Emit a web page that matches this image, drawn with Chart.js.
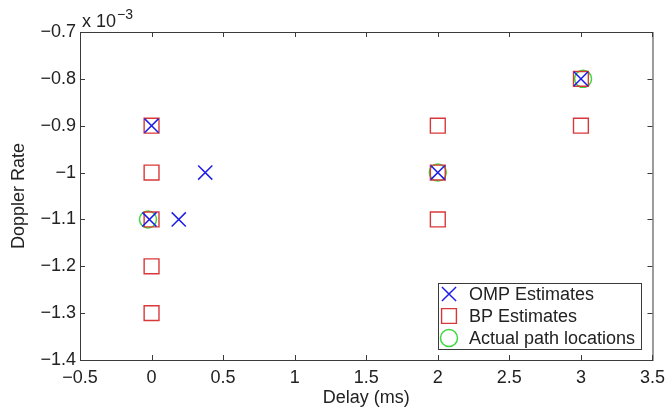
<!DOCTYPE html>
<html><head><meta charset="utf-8">
<script src="https://cdn.jsdelivr.net/npm/chart.js@4/dist/chart.umd.min.js"></script>
<style>html,body{margin:0;padding:0;background:#fff}#wrap{width:672px;height:410px}</style>
</head><body><div id="wrap"><canvas id="c" width="672" height="410"></canvas></div>
<script>
// Data (delay in ms, Doppler rate raw)
const ompDelay   = [0, 0.375, -0.015, 0.19, 2, 3];
const ompDoppler = [-0.0009, -0.0010, -0.0011, -0.0011, -0.0010, -0.0008];
const bpDelay    = [0, 0, 0, 0, 0, 2, 2, 2, 3, 3];
const bpDoppler  = [-0.0009, -0.0010, -0.0011, -0.0012, -0.0013, -0.0009, -0.0010, -0.0011, -0.0008, -0.0009];
const actDelay   = [-0.025, 2, 3.015];
const actDoppler = [-0.0011, -0.0010, -0.0008];
const xTicks = [-0.5, 0, 0.5, 1, 1.5, 2, 2.5, 3, 3.5];
const yTicks = [-0.0014, -0.0013, -0.0012, -0.0011, -0.0010, -0.0009, -0.0008, -0.0007];
const seriesNames = ['OMP Estimates', 'BP Estimates', 'Actual path locations'];

const FONT = '"Liberation Sans", Arial, sans-serif';
const FS = 18;
const pts = (xs, ys) => xs.map((x, i) => ({x: x, y: ys[i]}));
const fmtX = v => (v < 0 ? '\u2212' : '') + String(Math.abs(Math.round(v * 10) / 10));
const fmtY = v => { const k = Math.round(v * 10000) / 10; return (k < 0 ? '\u2212' : '') + String(Math.abs(k)); };

const matlabPlugin = {
  id: 'matlab',
  afterDraw(chart) {
    const {ctx, chartArea: a, scales} = chart;
    ctx.save();
    ctx.strokeStyle = '#3a3a3a';
    ctx.lineWidth = 1;
    ctx.strokeRect(a.left + 0.5, a.top + 0.5, a.right - a.left, a.bottom - a.top);
    const L = 5;
    ctx.beginPath();
    xTicks.forEach(t => {
      const px = Math.round(scales.x.getPixelForValue(t)) + 0.5;
      ctx.moveTo(px, a.bottom); ctx.lineTo(px, a.bottom - L);
      ctx.moveTo(px, a.top); ctx.lineTo(px, a.top + L);
    });
    yTicks.forEach(t => {
      const py = Math.round(scales.y.getPixelForValue(t)) + 0.5;
      ctx.moveTo(a.left, py); ctx.lineTo(a.left + L, py);
      ctx.moveTo(a.right, py); ctx.lineTo(a.right - L, py);
    });
    ctx.stroke();
    // exponent label
    ctx.fillStyle = '#222';
    ctx.textBaseline = 'alphabetic';
    ctx.textAlign = 'left';
    ctx.font = FS + 'px ' + FONT;
    ctx.fillText('x 10', a.left + 2, a.top - 5);
    const w = ctx.measureText('x 10').width;
    ctx.font = '14px ' + FONT;
    ctx.fillText('\u22123', a.left + 2 + w + 1, a.top - 13);
    // legend
    const lx = 438, ly = 283, lw = 203, lh = 66;
    ctx.fillStyle = '#fff';
    ctx.fillRect(lx, ly, lw, lh);
    ctx.strokeStyle = '#3a3a3a';
    ctx.lineWidth = 1;
    ctx.strokeRect(lx + 0.5, ly + 0.5, lw, lh);
    ctx.font = FS + 'px ' + FONT;
    ctx.textBaseline = 'middle';
    chart.data.datasets.forEach((ds, i) => {
      const cy = ly + 11 + i * 22;
      ctx.fillStyle = 'rgba(0,0,0,0)';
      ctx.strokeStyle = ds.borderColor;
      ctx.lineWidth = ds.pointBorderWidth;
      Chart.helpers.drawPoint(ctx, {pointStyle: ds.pointStyle, radius: ds.pointRadius, borderWidth: ds.pointBorderWidth}, lx + 11, cy);
      ctx.fillStyle = '#222';
      ctx.fillText(seriesNames[i], lx + 31, cy + 1);
    });
    ctx.restore();
  }
};

new Chart(document.getElementById('c'), {
  type: 'scatter',
  data: {
    datasets: [
      {label: seriesNames[0], data: pts(ompDelay, ompDoppler), pointStyle: 'crossRot', pointRadius: 10, pointBorderWidth: 1.5, borderColor: '#1f1fe6', backgroundColor: 'rgba(0,0,0,0)'},
      {label: seriesNames[1], data: pts(bpDelay, bpDoppler), pointStyle: 'rect', pointRadius: 10.5, pointBorderWidth: 1.4, borderColor: '#d83838', backgroundColor: 'rgba(0,0,0,0)'},
      {label: seriesNames[2], data: pts(actDelay, actDoppler), pointStyle: 'circle', pointRadius: 8.5, pointBorderWidth: 1.5, borderColor: '#3ed83e', backgroundColor: 'rgba(0,0,0,0)'}
    ]
  },
  options: {
    responsive: false,
    animation: false,
    events: [],
    layout: {padding: {left: 0, top: 32, right: 17, bottom: 0}},
    plugins: {legend: {display: false}, tooltip: {enabled: false}},
    scales: {
      x: {
        type: 'linear', min: -0.5, max: 3.5,
        afterBuildTicks: s => { s.ticks = xTicks.map(v => ({value: v})); },
        afterFit: s => { s.height = 50; },
        grid: {display: false, drawTicks: false},
        border: {display: false},
        ticks: {color: '#222', font: {size: FS, family: FONT}, padding: 7, maxRotation: 0, callback: v => fmtX(v)},
        title: {display: true, text: 'Delay (ms)', color: '#222', font: {size: FS, family: FONT}, padding: {top: 0, bottom: 1}}
      },
      y: {
        type: 'linear', min: -0.0014, max: -0.0007,
        afterBuildTicks: s => { s.ticks = yTicks.map(v => ({value: v})); },
        afterFit: s => { s.width = 80; },
        grid: {display: false, drawTicks: false},
        border: {display: false},
        ticks: {color: '#222', font: {size: FS, family: FONT}, padding: 4, callback: v => fmtY(v)},
        title: {display: true, text: 'Doppler Rate', color: '#222', font: {size: FS, family: FONT}, padding: {top: 8, bottom: 0}}
      }
    }
  },
  plugins: [matlabPlugin]
});
</script></body></html>
